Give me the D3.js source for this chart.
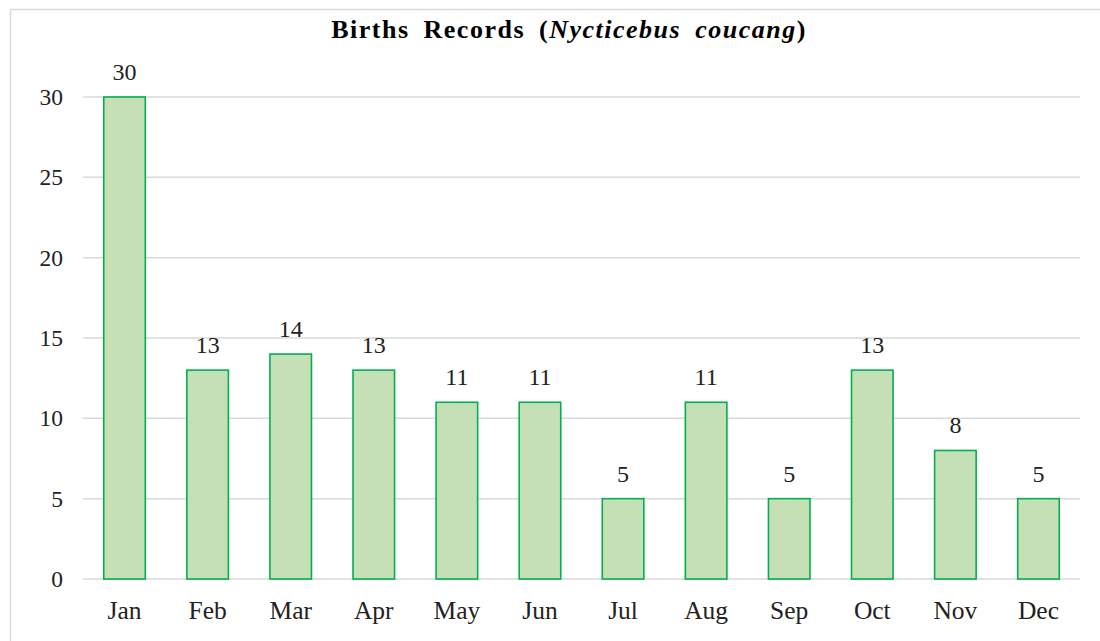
<!DOCTYPE html>
<html><head><meta charset="utf-8">
<script src="https://cdn.jsdelivr.net/npm/d3@7"></script>
<style>body{margin:0;background:#fff}svg{display:block}</style>
</head><body>
<svg id="c" width="1100" height="641"></svg>
<script>
const months = ["Jan","Feb","Mar","Apr","May","Jun","Jul","Aug","Sep","Oct","Nov","Dec"];
const births = [30,13,14,13,11,11,5,11,5,13,8,5];
const yTicks = [0,5,10,15,20,25,30];

const svg = d3.select("#c");
const font = "Liberation Serif, Times New Roman, serif";
const m = {left:83, right:1080, top:97, bottom:579};

svg.append("rect").attr("x",10.5).attr("y",9.5).attr("width",1100).attr("height",700)
  .attr("fill","#fff").attr("stroke","#d9d9d9").attr("stroke-width",1.5);

const x = d3.scaleBand().domain(months).range([m.left,m.right]).paddingInner(0.5).paddingOuter(0.25);
const y = d3.scaleLinear().domain([0,30]).range([m.bottom,m.top]);

svg.append("g").selectAll("line").data(yTicks).join("line")
  .attr("x1",m.left).attr("x2",m.right).attr("y1",d=>y(d)).attr("y2",d=>y(d))
  .attr("stroke","#d9d9d9").attr("stroke-width",1.5);

svg.append("g").selectAll("text").data(yTicks).join("text")
  .attr("x",63).attr("y",d=>y(d)+8).attr("text-anchor","end")
  .attr("font-family",font).attr("font-size",23.5).attr("fill","#222").text(d=>d);

svg.append("g").selectAll("rect").data(births).join("rect")
  .attr("x",(d,i)=>x(months[i])).attr("width",x.bandwidth())
  .attr("y",d=>y(d)).attr("height",d=>y(0)-y(d))
  .attr("fill","#c5e0b4").attr("stroke","#00b050").attr("stroke-width",1.6);

svg.append("g").selectAll("text").data(births).join("text")
  .attr("x",(d,i)=>x(months[i])+x.bandwidth()/2).attr("y",d=>y(d)-17)
  .attr("text-anchor","middle").attr("font-family",font).attr("font-size",24).attr("fill","#222").text(d=>d);

svg.append("g").selectAll("text").data(months).join("text")
  .attr("x",d=>x(d)+x.bandwidth()/2).attr("y",619)
  .attr("text-anchor","middle").attr("font-family",font).attr("font-size",25.5).attr("fill","#222").text(d=>d);

const t = svg.append("text").attr("x",569).attr("y",38).attr("text-anchor","middle")
  .attr("font-family",font).attr("font-size",26).attr("font-weight","bold").attr("fill","#000")
  .attr("letter-spacing","1.5px").attr("word-spacing","6px");
t.append("tspan").text("Births Records (");
t.append("tspan").attr("font-style","italic").text("Nycticebus coucang");
t.append("tspan").text(")");
</script>
</body></html>
